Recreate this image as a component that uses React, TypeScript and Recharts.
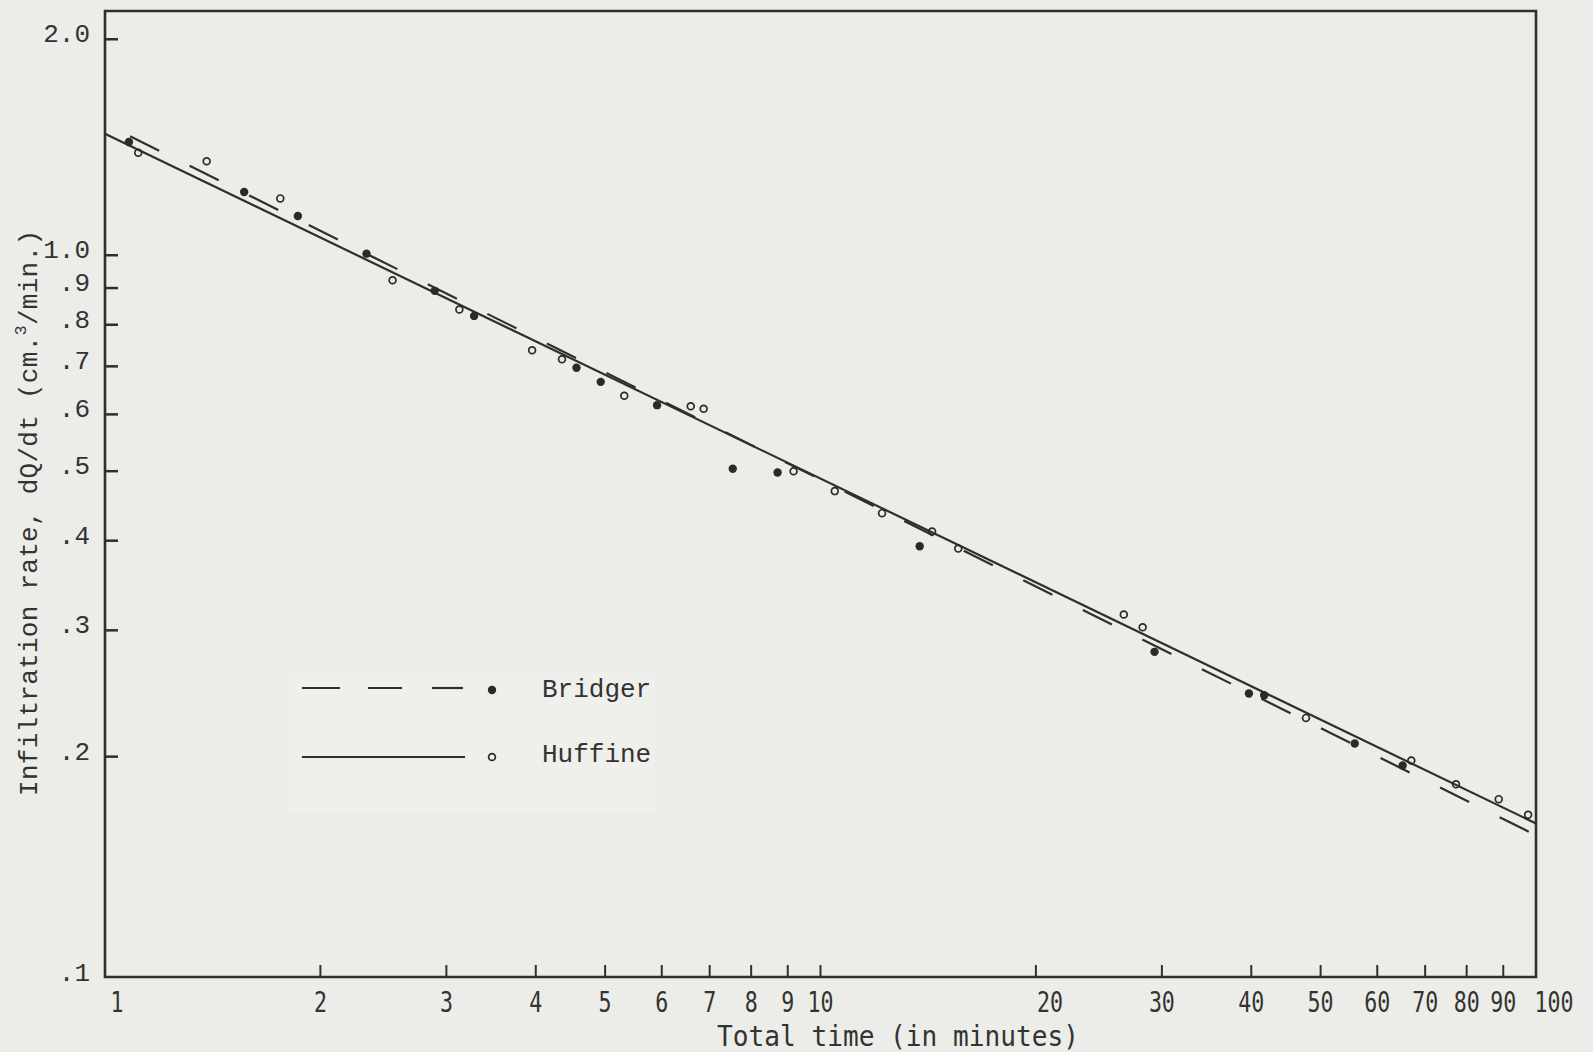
import React from 'react';
import { ScatterChart, Scatter, XAxis, YAxis, ReferenceArea, Legend } from 'recharts';

// ---- data ----
const bridgerTime = [1.08, 1.565, 1.86, 2.32, 2.89, 3.28, 4.56, 4.93, 5.91, 7.54, 8.71, 13.76, 29.3, 39.7, 41.7, 55.8, 65.1];
const bridgerRate = [1.438, 1.225, 1.134, 1.005, 0.892, 0.823, 0.697, 0.666, 0.618, 0.504, 0.498, 0.393, 0.28, 0.245, 0.2436, 0.2086, 0.1944];

const huffineTime = [1.113, 1.387, 1.758, 2.523, 3.128, 3.953, 4.352, 5.318, 6.586, 6.866, 9.17, 10.47, 12.19, 14.32, 15.58, 26.54, 28.2, 47.7, 66.95, 77.3, 88.7, 97.5];
const huffineRate = [1.39, 1.352, 1.2, 0.923, 0.84, 0.737, 0.716, 0.637, 0.616, 0.611, 0.5, 0.469, 0.437, 0.412, 0.39, 0.3156, 0.303, 0.2265, 0.1975, 0.183, 0.1745, 0.166];

// fitted lines (end points)
const bridgerFitTime = [1, 100];
const bridgerFitRate = [1.525, 0.1554];
const huffineFitTime = [1, 100];
const huffineFitRate = [1.477, 0.1614];

const xTicks = [1, 2, 3, 4, 5, 6, 7, 8, 9, 10, 20, 30, 40, 50, 60, 70, 80, 90, 100];
const yTicks = [2.0, 1.0, 0.9, 0.8, 0.7, 0.6, 0.5, 0.4, 0.3, 0.2, 0.1];
const yTickLabels = ['2.0', '1.0', '.9', '.8', '.7', '.6', '.5', '.4', '.3', '.2', '.1'];

const X_DOMAIN: [number, number] = [1, 100];
const Y_DOMAIN: [number, number] = [0.0986, 2.19];

const zip = (xs: number[], ys: number[]) => xs.map((x, i) => ({ x, y: ys[i] }));
const bridgerData = zip(bridgerTime, bridgerRate);
const huffineData = zip(huffineTime, huffineRate);
const bridgerFit = zip(bridgerFitTime, bridgerFitRate);
const huffineFit = zip(huffineFitTime, huffineFitRate);

// ---- layout / style ----
const W = 1593;
const H = 1052;
const Y_AXIS_W = 105;
const X_AXIS_H = 75;
const TOP = 11;
const RIGHT = 57;
const PLOT_LEFT = Y_AXIS_W;
const PLOT_BOTTOM = H - X_AXIS_H;
const INK = '#2f2f2d';
const TEXT = '#333331';
const BG = '#ecece9';
const MONO = '"Liberation Mono", "DejaVu Sans Mono", monospace';
const NARROW = '"DejaVu Sans Mono", monospace';

const xLabelShift: Record<number, number> = { 1: 12, 20: 14, 100: 18 };

const XTick = (props: any) => {
  const { x, payload } = props;
  const v = payload.value as number;
  const label = String(v);
  const dx = xLabelShift[v] ?? 0;
  return (
    <g>
      {v !== 1 && v !== 100 && (
        <line x1={x} x2={x} y1={PLOT_BOTTOM} y2={PLOT_BOTTOM - 12} stroke={INK} strokeWidth={2} />
      )}
      <text
        x={x + dx}
        y={PLOT_BOTTOM + 25}
        textAnchor="middle"
        dominantBaseline="central"
        fontFamily={NARROW}
        fontSize={28}
        textLength={label.length * 13}
        lengthAdjust="spacingAndGlyphs"
        fill={TEXT}
      >
        {label}
      </text>
    </g>
  );
};

const YTick = (props: any) => {
  const { y, payload } = props;
  const v = payload.value as number;
  const i = yTicks.indexOf(v);
  const label = i >= 0 ? yTickLabels[i] : String(v);
  const isEdge = v === 0.1;
  return (
    <g>
      {!isEdge && <line x1={PLOT_LEFT} x2={PLOT_LEFT + 13} y1={y} y2={y} stroke={INK} strokeWidth={2.5} />}
      <text
        x={90}
        y={isEdge ? y + 1 : y - 4}
        textAnchor="end"
        dominantBaseline="central"
        fontFamily={MONO}
        fontSize={26}
        fill={TEXT}
      >
        {label}
      </text>
    </g>
  );
};

const YTitle = () => (
  <text
    x={30}
    y={513}
    transform="rotate(-90 30 513)"
    textAnchor="middle"
    dominantBaseline="central"
    fontFamily={MONO}
    fontSize={26}
    fill={TEXT}
    textLength={566}
    lengthAdjust="spacing"
  >
    <tspan>Infiltration rate, dQ/dt (cm.</tspan>
    <tspan dy={-9} fontSize={17}>3</tspan>
    <tspan dy={9}>/min.)</tspan>
  </text>
);

const XTitle = () => (
  <text
    x={898}
    y={1036}
    textAnchor="middle"
    dominantBaseline="central"
    fontFamily={NARROW}
    fontSize={28}
    textLength={362}
    lengthAdjust="spacingAndGlyphs"
    fill={TEXT}
  >
    Total time (in minutes)
  </text>
);

const FilledDot = (p: any) => <circle cx={p.cx} cy={p.cy} r={4.2} fill="#2a2a28" />;
const OpenDot = (p: any) => (
  <circle cx={p.cx} cy={p.cy} r={3.4} fill="none" stroke="#2a2a28" strokeWidth={1.7} />
);
const NoDot = () => <g />;

const LegendBox = () => (
  <svg width={400} height={160} style={{ display: 'block', overflow: 'visible' }}>
    <rect x={8} y={12} width={367} height={141} fill="#efefec" />
    <line x1={22} x2={60} y1={28} y2={28} stroke={INK} strokeWidth={2.2} />
    <line x1={88} x2={122} y1={28} y2={28} stroke={INK} strokeWidth={2.2} />
    <line x1={152} x2={183} y1={28} y2={28} stroke={INK} strokeWidth={2.2} />
    <circle cx={212} cy={30} r={4.2} fill="#2a2a28" />
    <text x={262} y={37} fontFamily={MONO} fontSize={26} fill={TEXT}>Bridger</text>
    <line x1={22} x2={185} y1={97} y2={97} stroke={INK} strokeWidth={2.2} />
    <circle cx={212} cy={97} r={3.4} fill="none" stroke="#2a2a28" strokeWidth={1.7} />
    <text x={262} y={102} fontFamily={MONO} fontSize={26} fill={TEXT}>Huffine</text>
  </svg>
);

export default function App() {
  return (
    <div style={{ position: 'absolute', left: 0, top: 0, width: W, height: H, background: BG }}>
      <ScatterChart width={W} height={H} margin={{ top: TOP, right: RIGHT, bottom: 0, left: 0 }}>
        <XAxis
          dataKey="x"
          type="number"
          scale="log"
          domain={X_DOMAIN}
          ticks={xTicks}
          interval={0}
          allowDataOverflow
          axisLine={false}
          tickLine={false}
          height={X_AXIS_H}
          tick={<XTick />}
          label={{ content: () => <XTitle /> }}
        />
        <YAxis
          dataKey="y"
          type="number"
          scale="log"
          domain={Y_DOMAIN}
          ticks={yTicks}
          interval={0}
          allowDataOverflow
          axisLine={false}
          tickLine={false}
          width={Y_AXIS_W}
          tick={<YTick />}
          label={{ content: () => <YTitle /> }}
        />
        <ReferenceArea
          x1={X_DOMAIN[0]}
          x2={X_DOMAIN[1]}
          y1={Y_DOMAIN[0]}
          y2={Y_DOMAIN[1]}
          fill="none"
          stroke={INK}
          strokeWidth={2.6}
          ifOverflow="visible"
        />
        <Scatter
          name="Bridger fit"
          data={bridgerFit}
          line={{ stroke: INK, strokeWidth: 2.2, strokeDasharray: '32.5 34', strokeDashoffset: 38.5 }}
          shape={NoDot}
          legendType="none"
          isAnimationActive={false}
        />
        <Scatter
          name="Huffine fit"
          data={huffineFit}
          line={{ stroke: INK, strokeWidth: 2.2 }}
          shape={NoDot}
          legendType="none"
          isAnimationActive={false}
        />
        <Scatter name="Bridger" data={bridgerData} shape={FilledDot} isAnimationActive={false} />
        <Scatter name="Huffine" data={huffineData} shape={OpenDot} isAnimationActive={false} />
        <Legend
          layout="horizontal"
          verticalAlign="middle"
          align="center"
          content={() => <LegendBox />}
          wrapperStyle={{ position: 'absolute', left: 280, top: 660, width: 400, height: 160 }}
        />
      </ScatterChart>
    </div>
  );
}
